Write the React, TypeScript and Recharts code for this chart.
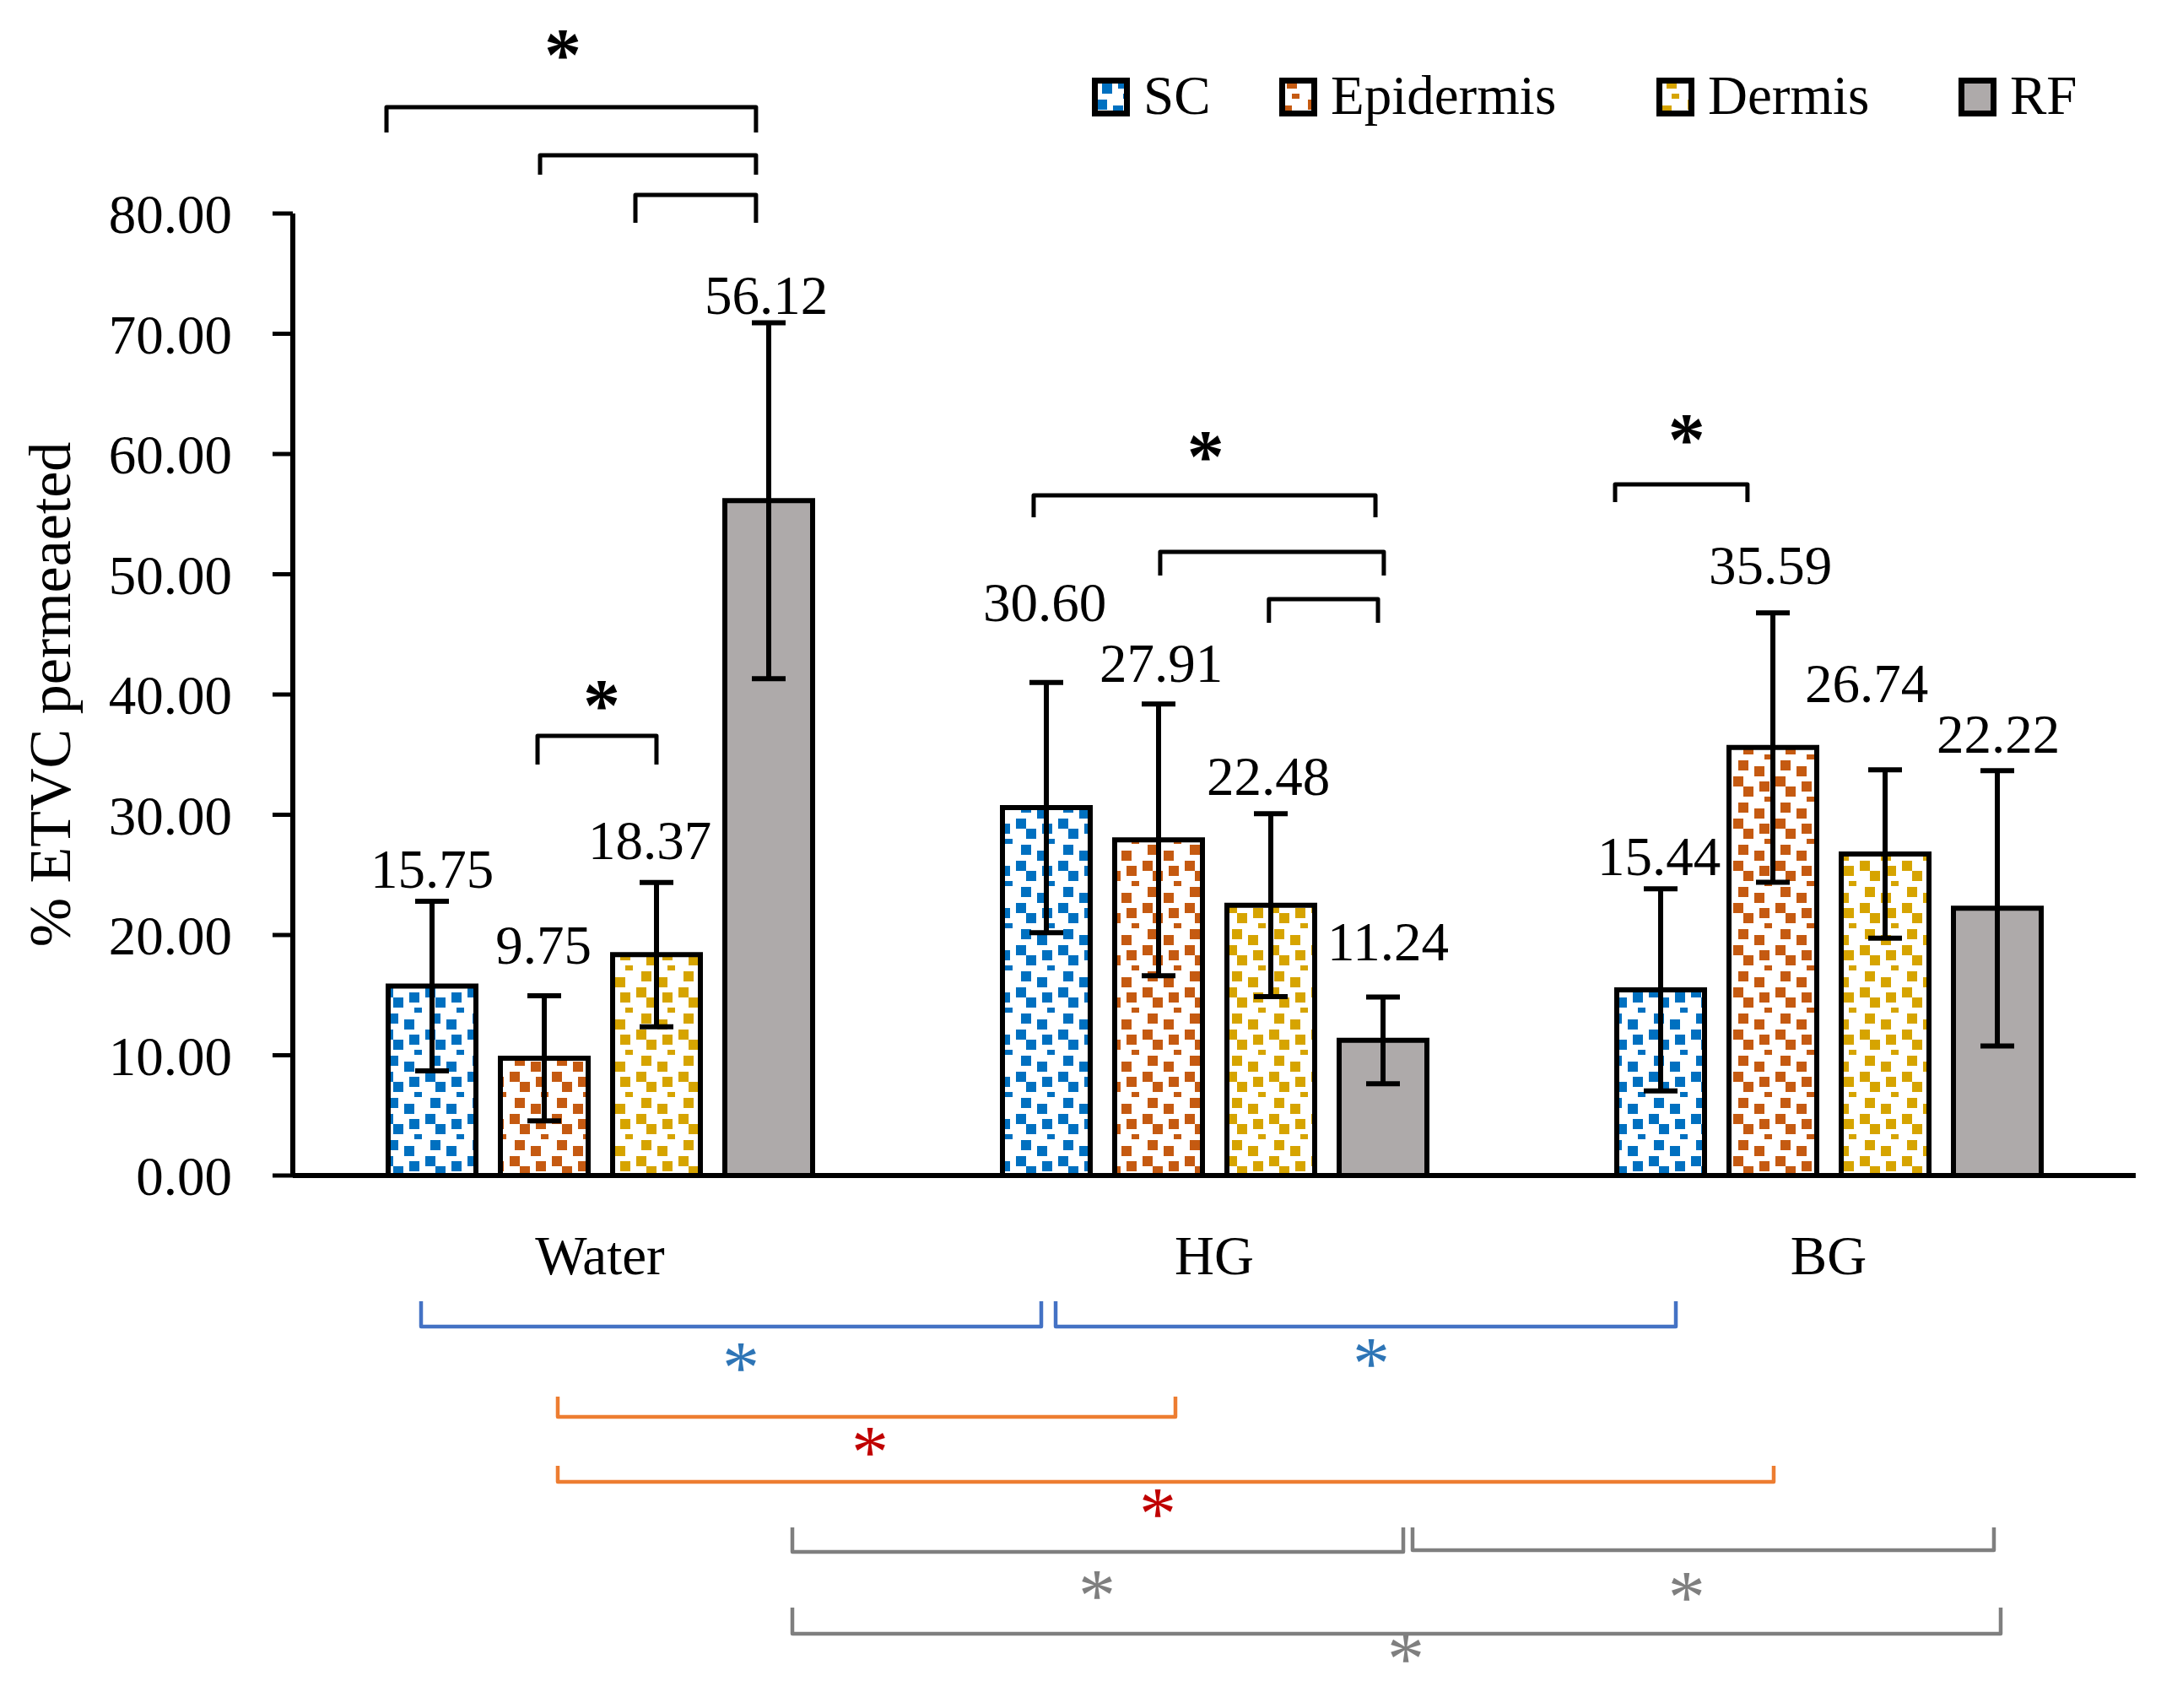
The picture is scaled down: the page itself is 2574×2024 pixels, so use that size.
import React from 'react';
import { BarChart, Bar, XAxis, YAxis, ErrorBar, LabelList, Legend, ReferenceArea, ReferenceDot } from 'recharts';

// ---------- data ----------
const categories = ['Water', 'HG', 'BG'];
const seriesNames = ['SC', 'Epidermis', 'Dermis', 'RF'];
const scValues = [15.75, 30.6, 15.44];
const epidermisValues = [9.75, 27.91, 35.59];
const dermisValues = [18.37, 22.48, 26.74];
const rfValues = [56.12, 11.24, 22.22];
const scErrors = [7.05, 10.4, 8.4];
const epidermisErrors = [5.2, 11.3, 11.2];
const dermisErrors = [6.0, 7.6, 7.0];
const rfErrors = [14.8, 3.6, 11.44];
const yTicks = [0, 10, 20, 30, 40, 50, 60, 70, 80];
// helper extent for the hidden annotation axis (0..3 category units)
const annotationSpan = [0, 1.5, 3];

// significance brackets (x: category units on a 0..3 axis, y: % values)
const bracketX1 = [0.1525, 0.4025, 0.5577, 0.3984, 1.206, 1.412, 1.589, 2.1525, 0.2088, 1.2418, 0.4313, 0.4313, 0.8132, 1.8228, 0.8132];
const bracketX2 = [0.754, 0.754, 0.754, 0.592, 1.7624, 1.776, 1.7665, 2.368, 1.2184, 2.2514, 1.4368, 2.4107, 1.8077, 2.7692, 2.7802];
const bracketLine = [88.84, 84.84, 81.54, 36.56, 56.56, 51.86, 47.93, 57.47, -12.56, -12.56, -20.07, -25.47, -31.3, -31.16, -38.11];
const bracketTip = [86.74, 83.23, 79.23, 34.18, 54.74, 49.89, 45.96, 56.0, -10.46, -10.46, -18.39, -24.14, -29.26, -29.26, -35.93];
const bracketKind = ['k', 'k', 'k', 'k', 'k', 'k', 'k', 'k', 'b', 'b', 'o', 'o', 'g', 'g', 'g'];
const starX = [0.4396, 0.5027, 1.486, 2.269, 0.7294, 1.7555, 0.9396, 1.408, 1.309, 2.269, 1.8118];
const starY = [93.96, 39.86, 60.56, 61.96, -15.23, -14.88, -22.25, -27.37, -34.18, -34.32, -39.44];
const starKind = ['k', 'k', 'k', 'k', 'b', 'b', 'r', 'r', 'g', 'g', 'g'];

// ---------- styles ----------
const FONT = '"Liberation Serif", "Times New Roman", serif';
const FS = 65;
const COLORS: Record<string, string> = { SC: '#0070C0', Epidermis: '#C55A11', Dermis: '#D6A400', RF: '#AEAAAA' };
const BRACKET_COLOR: Record<string, string> = { k: '#000000', b: '#4472C4', o: '#ED7D31', g: '#7F7F7F' };
const BRACKET_W: Record<string, number> = { k: 5, b: 4.5, o: 4.5, g: 4.5 };
const STAR_COLOR: Record<string, string> = { k: '#000000', b: '#2E75B6', r: '#C00000', g: '#7F7F7F' };
const SQUARES = [[10, 1], [29, 8], [4, 20], [35, 26], [16, 32], [41, 44]];
const LABEL_DX: Record<string, number[]> = { SC: [0, -2, -2], Epidermis: [-1, 3, -3], Dermis: [-8, -3, -22], RF: [-3, 6, 1] };
const LABEL_GAP: Record<string, number[]> = { SC: [16, 73, 16], Epidermis: [38, 26, 34], Dermis: [28, 22, 80], RF: [10, 44, 21] };

const valuesBy: Record<string, number[]> = { SC: scValues, Epidermis: epidermisValues, Dermis: dermisValues, RF: rfValues };
const errorsBy: Record<string, number[]> = { SC: scErrors, Epidermis: epidermisErrors, Dermis: dermisErrors, RF: rfErrors };

const data = categories.map((name, i) => {
  const row: any = { name, span: annotationSpan[i] };
  seriesNames.forEach((s) => {
    row[s] = valuesBy[s][i];
    row[s + '_err'] = errorsBy[s][i];
  });
  return row;
});

const patternDefs = (prefix: string) => (
  <defs>
    {seriesNames.filter((s) => s !== 'RF').map((s) => (
      <pattern key={s} id={prefix + s} patternUnits="userSpaceOnUse" width={50} height={50}>
        <rect x={0} y={0} width={50} height={50} fill="#ffffff" />
        {SQUARES.map(([px, py], k) => (
          <rect key={k} x={px} y={py} width={12} height={12} fill={COLORS[s]} />
        ))}
      </pattern>
    ))}
  </defs>
);

const fillFor = (prefix: string, s: string) => (s === 'RF' ? COLORS.RF : `url(#${prefix}${s})`);

const makeLabel = (s: string) => (props: any) => {
  const vb = props.viewBox || {};
  const x = props.x ?? vb.x;
  const y = props.y ?? vb.y;
  const width = props.width ?? vb.width;
  const height = props.height ?? vb.height;
  const index = props.index ?? 0;
  const value = valuesBy[s][index];
  const pxPerUnit = height / value;
  const errTop = y - errorsBy[s][index] * pxPerUnit;
  return (
    <text
      x={x + width / 2 + LABEL_DX[s][index]}
      y={errTop - LABEL_GAP[s][index]}
      textAnchor="middle"
      fontSize={FS}
      fontFamily={FONT}
      fill="#000"
    >
      {value.toFixed(2)}
    </text>
  );
};

const bracketShape = (i: number) => (props: any) => {
  const { x, y, width, height } = props;
  const top = bracketLine[i] > bracketTip[i];
  const lineY = top ? y : y + height;
  const tipY = top ? y + height : y;
  const c = BRACKET_COLOR[bracketKind[i]];
  return (
    <path
      d={`M${x},${tipY} L${x},${lineY} L${x + width},${lineY} L${x + width},${tipY}`}
      fill="none"
      stroke={c}
      strokeWidth={BRACKET_W[bracketKind[i]]}
      strokeLinejoin="round"
    />
  );
};

const starShape = (i: number) => (props: any) => {
  const { cx, cy } = props;
  const k = starKind[i];
  return (
    <text
      x={cx}
      y={cy + 40}
      textAnchor="middle"
      fontSize={88}
      fontFamily={FONT}
      fontWeight={k === 'k' ? 'bold' : 'normal'}
      fill={STAR_COLOR[k]}
    >
      *
    </text>
  );
};

const LEGEND_X = [4, 226, 673, 1031];

const LegendContent = () => (
  <svg width={1260} height={110} style={{ display: 'block' }}>
    {patternDefs('lg')}
    {seriesNames.map((s, i) => (
      <g key={s}>
        <rect x={LEGEND_X[i] + 3.5} y={28.5} width={38} height={39} fill={fillFor('lg', s)} stroke="#000" strokeWidth={7} />
        <text x={LEGEND_X[i] + 61} y={68} fontSize={FS} fontFamily={FONT} fill="#000">
          {s}
        </text>
      </g>
    ))}
  </svg>
);

const YLabel = (props: any) => {
  const vb = props.viewBox || { y: 253, height: 1140 };
  const cy = vb.y + vb.height / 2;
  return (
    <text x={83} y={cy} transform={`rotate(-90, 83, ${cy})`} textAnchor="middle" fontSize={70} fontFamily={FONT} fill="#000">
      % ETVC permeaeted
    </text>
  );
};

export default function App() {
  return (
    <div style={{ position: 'absolute', left: 0, top: 0, width: 2574, height: 2024, background: '#fff' }}>
      <BarChart
        width={2574}
        height={2024}
        data={data}
        margin={{ top: 253, right: 43, bottom: 0, left: 0 }}
        barGap={29}
        barCategoryGap={112}
      >
        {patternDefs('bar')}
        <XAxis
          dataKey="name"
          height={631}
          tickLine={false}
          tickSize={0}
          tickMargin={71}
          axisLine={{ stroke: '#000', strokeWidth: 6 }}
          tick={{ fontSize: FS, fontFamily: FONT, fill: '#000' }}
          interval={0}
        />
        <XAxis xAxisId="num" dataKey="span" type="number" domain={[0, 3]} allowDataOverflow hide />
        <YAxis
          width={347}
          domain={[0, 80]}
          ticks={yTicks}
          interval={0}
          allowDataOverflow
          tickFormatter={(v: number) => v.toFixed(2)}
          tickSize={24}
          tickMargin={48}
          tickLine={{ stroke: '#000', strokeWidth: 5 }}
          axisLine={{ stroke: '#000', strokeWidth: 6 }}
          tick={{ fontSize: FS, fontFamily: FONT, fill: '#000' }}
          label={<YLabel />}
        />
        <Legend
          layout="horizontal"
          verticalAlign="middle"
          align="center"
          wrapperStyle={{ left: 1290, top: 67, width: 1260, height: 110 }}
          content={() => <LegendContent />}
        />
        {seriesNames.map((s) => (
          <Bar
            key={s}
            dataKey={s}
            barSize={104}
            fill={fillFor('bar', s)}
            stroke="#000"
            strokeWidth={6}
            isAnimationActive={false}
          >
            <ErrorBar dataKey={s + '_err'} width={20} strokeWidth={6} stroke="#000" direction="y" isAnimationActive={false} />
            <LabelList dataKey={s} content={makeLabel(s)} />
          </Bar>
        ))}
        {bracketX1.map((x1, i) => (
          <ReferenceArea
            key={'br' + i}
            xAxisId="num"
            x1={x1}
            x2={bracketX2[i]}
            y1={bracketTip[i]}
            y2={bracketLine[i]}
            ifOverflow="visible"
            shape={bracketShape(i)}
          />
        ))}
        {starX.map((x, i) => (
          <ReferenceDot key={'st' + i} xAxisId="num" x={x} y={starY[i]} r={0} ifOverflow="visible" shape={starShape(i)} />
        ))}
      </BarChart>
    </div>
  );
}
